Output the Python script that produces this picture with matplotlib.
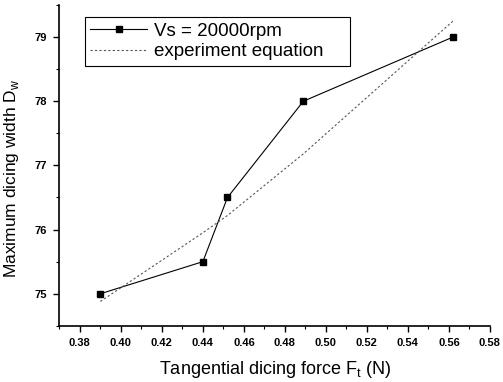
import matplotlib
matplotlib.use("Agg")
import matplotlib.pyplot as plt
from matplotlib.ticker import MultipleLocator

plt.rcParams['font.family'] = ['Liberation Sans', 'DejaVu Sans']

# measured points
force = [0.39, 0.44, 0.452, 0.489, 0.562]
width = [75.0, 75.5, 76.5, 78.0, 79.0]

# experiment equation evaluated at the same forces
fit_width = [74.88, 75.95, 76.22, 77.18, 79.25]

x_ticks = [0.38, 0.40, 0.42, 0.44, 0.46, 0.48, 0.50, 0.52, 0.54, 0.56, 0.58]
y_ticks = [75, 76, 77, 78, 79]

fig = plt.figure(figsize=(5.03, 3.82), dpi=100)
ax = fig.add_axes([0.118, 0.147, 0.856, 0.840])

ax.plot(force, width, '-', color='black', lw=0.8, marker='s', ms=4.5,
        label='Vs = 20000rpm')
ax.plot(force, fit_width, linestyle=(0, (2, 2)), color='#555555', lw=0.8,
        label='experiment equation')

ax.set_xlim(0.37, 0.58)
ax.set_ylim(74.5, 79.5)
ax.set_xticks(x_ticks)
ax.set_yticks(y_ticks)
ax.set_xticklabels([f"{t:.2f}" for t in x_ticks])
ax.xaxis.set_minor_locator(MultipleLocator(0.01))
ax.yaxis.set_minor_locator(MultipleLocator(0.5))

for lab in ax.get_xticklabels() + ax.get_yticklabels():
    lab.set_fontsize(8)
    lab.set_fontweight('bold')

ax.tick_params(which='major', direction='out', length=4, width=1.0, pad=5)
ax.tick_params(which='minor', direction='out', length=2.5, width=0.8)

for side in ['top', 'right']:
    ax.spines[side].set_visible(False)
for side in ['left', 'bottom']:
    ax.spines[side].set_linewidth(1.2)

ax.set_xlabel('Tangential dicing force F$_\\mathregular{t}$ (N)', fontsize=13, labelpad=8)
ax.set_ylabel('Maximum dicing width D$_\\mathregular{w}$', fontsize=12.5)
ax.yaxis.set_label_coords(-0.088, 0.46)

leg = ax.legend(loc='upper left', bbox_to_anchor=(0.059, 0.0, 0.616, 0.963),
                mode='expand', borderaxespad=0,
                fontsize=13.5, fancybox=False, edgecolor='black', framealpha=1,
                handlelength=3.0, handletextpad=0.4, borderpad=0.3,
                labelspacing=0.2)
leg.get_frame().set_linewidth(0.8)

fig.savefig('out.png', dpi=100)
